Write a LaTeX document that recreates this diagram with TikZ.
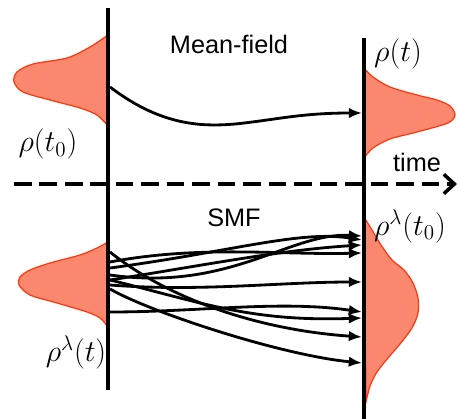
\documentclass[tikz,border=0pt]{standalone}
\usepackage{fontspec}
\usepackage{tikz}
\usetikzlibrary{arrows.meta,positioning}
\newfontfamily\labelfont{Liberation Sans}
\definecolor{densfill}{RGB}{250,136,110}
\definecolor{densline}{RGB}{255,55,15}

\begin{document}
\begin{tikzpicture}[x=0.02cm,y=-0.02cm,
  axis/.style={line width=2.8pt},
  dens/.style={draw=densline,fill=densfill,line width=0.7pt},
  traj/.style={-{Latex[length=7.5pt,width=6pt]},line width=1.6pt},
  lbl/.style={font=\labelfont\Large,inner sep=1pt},
  mth/.style={font=\LARGE,inner sep=1pt}
]
\useasboundingbox (0,0) rectangle (461,419);
% Densities
\draw[dens] plot[smooth] coordinates {(108,35) (90,47) (67,58) (33,64) (17,72) (14,82) (23,92) (50,100) (80,108) (97,115) (108,126)} -- cycle;
\draw[dens] plot[smooth] coordinates {(364,68) (373,77) (390,87) (417,95) (437,100) (450,106) (455,115) (448,123) (417,132) (390,139) (373,148) (364,158)} -- cycle;
\draw[dens] plot[smooth] coordinates {(108,242) (97,248) (80,255) (50,263) (30,270) (20,277) (19,285) (30,295) (57,303) (87,312) (100,318) (108,327)} -- cycle;
\draw[dens] plot[smooth] coordinates {(364,217) (372,230) (381,245) (392,260) (404,270) (413,283) (418,298) (418,313) (412,328) (400,344) (388,358) (377,372) (370,386) (366,402)} -- cycle;

% Time axes
\coordinate (lt) at (108,8);
\coordinate (lb) at (108,390);
\coordinate (rt) at (364,38);
\coordinate (rb) at (364,419);
\coordinate (ta) at (14,184);
\coordinate (tb) at (457,184);
\draw[axis] (lt) -- (lb);
\draw[axis] (rt) -- (rb);
\draw[axis,dash pattern=on 10pt off 4.5pt,-{Straight Barb[length=6pt,width=11pt,line width=2pt]}] (ta) -- (tb);

% Labels
\node[lbl] (mf)   at (229,44)  {Mean-field};
\node[lbl] (smf)  at (234,218) {SMF};
\node[lbl] (time) at (417,162) {time};
\node[mth] (r0)   at (48,144)  {$\rho(t_0)$};
\node[mth] (rt1)  at (398,54)  {$\rho(t)$};
\node[mth] (rl)   at (76,352)  {$\rho^\lambda(t)$};
\node[mth] (rl0)  at (410,226) {$\rho^\lambda(t_0)$};

% Mean-field trajectory
\coordinate (m0) at (110,87);
\coordinate (m1) at (362,113);
\draw[traj] (m0) .. controls (160,125) and (200,127) .. (235,124) .. controls (275,120) and (300,113) .. (m1);

% SMF trajectories
\coordinate (s1) at (110,252);
\coordinate (s2) at (110,275);
\coordinate (s3) at (110,262);
\coordinate (s4) at (110,280);
\coordinate (s5) at (110,285);
\coordinate (s6) at (110,289);
\coordinate (s7) at (110,312);
\coordinate (s8) at (110,268);
\coordinate (s9) at (110,280);
\coordinate (e1) at (362,337);
\coordinate (e2) at (362,236);
\coordinate (e3) at (362,253);
\coordinate (e4) at (362,245);
\coordinate (e5) at (362,282);
\coordinate (e6) at (362,363);
\coordinate (e7) at (362,312);
\coordinate (e8) at (362,240);
\coordinate (e9) at (362,318);
\draw[traj] (s1) .. controls (170,300) and (260,330) .. (e1);
\draw[traj] (s2) .. controls (230,292) and (290,232) .. (e2);
\draw[traj] (s3) .. controls (200,245) and (280,255) .. (e3);
\draw[traj] (s4) .. controls (200,266) and (280,250) .. (e4);
\draw[traj] (s5) .. controls (200,292) and (280,282) .. (e5);
\draw[traj] (s6) .. controls (150,312) and (280,355) .. (e6);
\draw[traj] (s7) .. controls (200,312) and (280,300) .. (e7);
\draw[traj] (s8) .. controls (230,252) and (300,230) .. (e8);
\draw[traj] (s9) .. controls (200,302) and (250,322) .. (e9);
\end{tikzpicture}
\end{document}
